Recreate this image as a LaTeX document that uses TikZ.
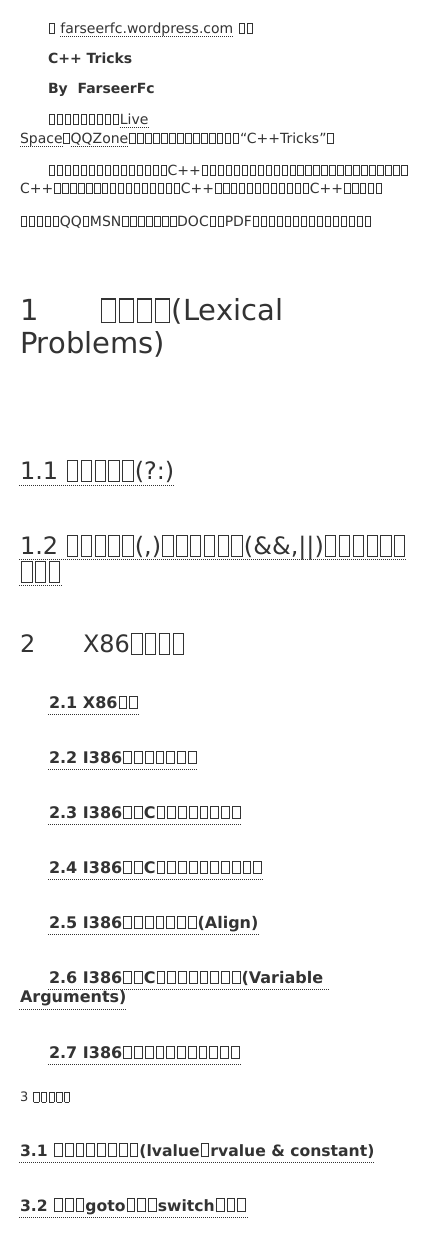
\documentclass[tikz,border=0pt]{standalone}
\usepackage{fontspec}
\setmainfont{DejaVu Sans}
\definecolor{ink}{RGB}{51,51,51}
\newdimen\tofuW \newdimen\tofuH \newdimen\tofuD \newdimen\tofuT \newdimen\tofuG
\newcount\tofuC
\newcommand\tofu{\hbox to\tofuW{\hss\lower\tofuD\hbox{\vrule width\tofuT height\dimexpr\tofuH+\tofuD\relax depth0pt\vbox to\dimexpr\tofuH+\tofuD\relax{\hrule width\dimexpr\tofuW-\tofuG-2\tofuT\relax height\tofuT\vfill\hrule width\dimexpr\tofuW-\tofuG-2\tofuT\relax height\tofuT}\vrule width\tofuT height\dimexpr\tofuH+\tofuD\relax depth0pt}\hss}}
\newcommand\tofun[1]{\tofuC=#1\relax\loop\ifnum\tofuC>0 \tofu\advance\tofuC-1\repeat}
\newcommand\bodyf{\fontsize{14pt}{17pt}\selectfont\tofuW=7.98pt\tofuH=10.5pt\tofuD=1.2pt\tofuT=0.8pt\tofuG=1.6pt}
\newcommand\bodybf{\fontsize{14pt}{17pt}\selectfont\bfseries}
\newcommand\hAf{\fontsize{29pt}{34pt}\selectfont\tofuW=18.2pt\tofuH=21.7pt\tofuD=3pt\tofuT=1.2pt\tofuG=3pt}
\newcommand\hBf{\fontsize{24pt}{28pt}\selectfont\tofuW=13.8pt\tofuH=19pt\tofuD=2.5pt\tofuT=1pt\tofuG=2.5pt}
\newcommand\hCf{\fontsize{16pt}{19pt}\selectfont\bfseries\tofuW=10.76pt\tofuH=12.3pt\tofuD=1pt\tofuT=1pt\tofuG=2pt}
\newcommand\hDf{\fontsize{15.6pt}{19pt}\selectfont\bfseries\tofuW=10.8pt\tofuH=12.7pt\tofuD=1.3pt\tofuT=1pt\tofuG=2pt}
\newcommand\smf{\fontsize{13pt}{15pt}\selectfont\tofuW=7.7pt\tofuH=9.3pt\tofuD=1.3pt\tofuT=0.8pt\tofuG=1.5pt}
\tikzset{
  txt/.style={inner sep=0pt, outer sep=0pt, anchor=base west, text=ink},
  body/.style={txt, font=\bodyf},
  bodyb/.style={txt, font=\bodybf},
  hA/.style={txt, font=\hAf},
  hB/.style={txt, font=\hBf},
  hC/.style={txt, font=\hCf},
  hD/.style={txt, font=\hDf},
  sm/.style={txt, font=\smf},
  ul/.style={draw=ink, line width=0.9pt, dash pattern=on 1pt off 1pt}
}
\newcommand\uline[2]{\draw[ul] ([shift={(-1pt,-#2)}]#1.base west) -- ([yshift=-#2]#1.base east);}
\begin{document}
\begin{tikzpicture}[x=1pt,y=-1pt]
\fill[white] (0,0) rectangle (440,1251);
\useasboundingbox (0,0) rectangle (440,1251);
% intro
\node[body] (l1a) at (48,33) {\tofu\ \null};
\node[body] (l1b) at (l1a.base east) {farseerfc.wordpress.com};
\node[body] (l1c) at (l1b.base east) {\ \tofu\tofu};
\node[bodyb] (t1) at (48,63) {C++ Tricks};
\node[bodyb] (t2) at (48,93) {By\ \ FarseerFc};
\node[body] (p1a) at (48,124) {\tofun{9}};
\node[body] (p1b) at (p1a.base east) {Live};
\node[body] (p2a) at (20,143) {Space};
\node[body] (p2b) at (p2a.base east) {\tofu};
\node[body] (p2c) at (p2b.base east) {QQZone};
\node[body] (p2d) at (p2c.base east) {\tofun{14}“C++Tricks”\tofu};
\node[body] (p3) at (48,175) {\tofun{15}C++\tofun{26}};
\node[body] (p4) at (20,193) {C++\tofun{16}C++\tofun{12}C++\tofun{5}};
\node[body] (p5) at (20,226) {\tofun{5}QQ\tofu MSN\tofun{7}DOC\tofun{2}PDF\tofun{15}};
\draw[ul] ([yshift=-3.5pt]l1b.base west) -- ([yshift=-3.5pt]l1b.base east);
\draw[ul] ([yshift=-3.5pt]p1b.base west) -- ([yshift=-3.5pt]p1b.base east);
\draw[ul] ([yshift=-3.5pt]p2a.base west) -- ([yshift=-3.5pt]p2a.base east);
\draw[ul] ([yshift=-3.5pt]p2c.base west) -- ([yshift=-3.5pt]p2c.base east);
% chapter 1
\node[hA] (h1n) at (20,320) {1};
\node[hA] (h1t) at (99,320) {\tofun{4}(Lexical};
\node[hA] (h1u) at (20,353) {Problems)};
\node[hB] (s11) at (20,479) {1.1 \tofun{5}(?:)};
\node[hB] (s12a) at (20,554) {1.2 \tofun{5}(,)\tofun{6}(\&\&,||)\tofun{6}};
\node[hB] (s12b) at (20,580) {\tofun{3}};
\uline{s11}{6pt}
\uline{s12a}{5pt}
\uline{s12b}{5pt}
% chapter 2
\node[hB] (h2n) at (20,652) {2};
\node[hB] (h2t) at (83,652) {X86\tofun{4}};
\node[hC] (s21) at (49,708) {2.1 X86\tofun{2}};
\node[hC] (s22) at (49,763) {2.2 I386\tofun{7}};
\node[hC] (s23) at (49,818) {2.3 I386\tofun{2}C\tofun{8}};
\node[hC] (s24) at (49,873) {2.4 I386\tofun{2}C\tofun{10}};
\node[hC] (s25) at (49,928) {2.5 I386\tofun{7}(Align)};
\node[hC] (s26a) at (49,983) {2.6 I386\tofun{2}C\tofun{8}(Variable\ \null};
\node[hC] (s26b) at (20,1002) {Arguments)};
\node[hC] (s27) at (49,1058) {2.7 I386\tofun{11}};
\uline{s21}{6.5pt}
\uline{s22}{6.5pt}
\uline{s23}{6.5pt}
\uline{s24}{6.5pt}
\uline{s25}{6.5pt}
\uline{s26a}{6.5pt}
\uline{s26b}{7pt}
\uline{s27}{6.5pt}
% chapter 3
\node[sm] (h3) at (20,1101) {3 \tofun{5}};
\node[hD] (s31) at (20,1156) {3.1 \tofun{8}(lvalue\tofu rvalue \& constant)};
\node[hD] (s32) at (20,1211) {3.2 \tofun{3}goto\tofun{3}switch\tofun{3}};
\uline{s31}{6pt}
\uline{s32}{6pt}
\end{tikzpicture}
\end{document}
